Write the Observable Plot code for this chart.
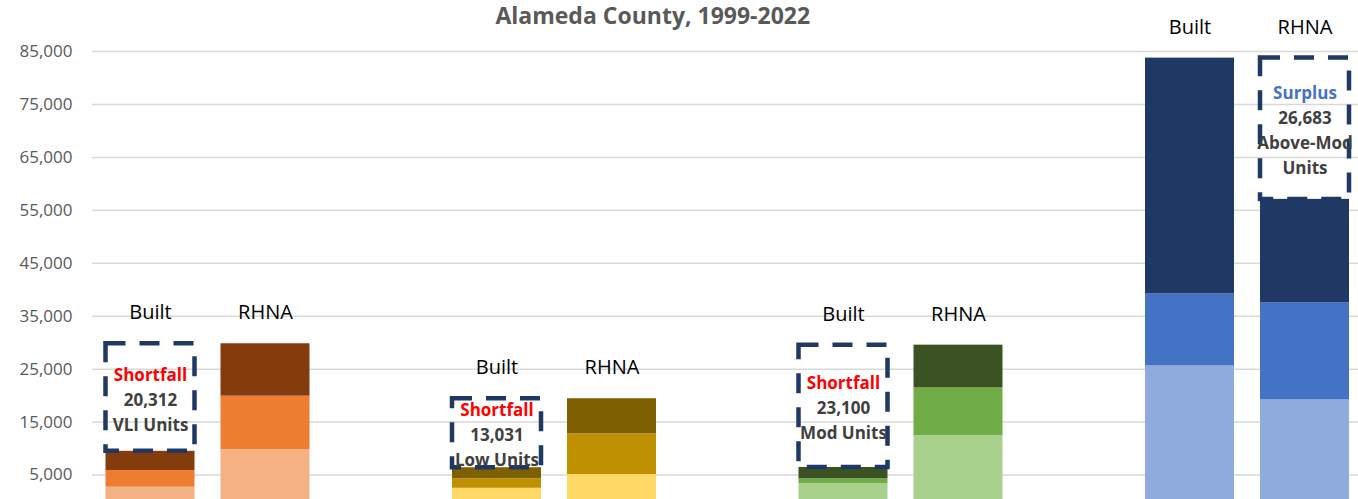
<!DOCTYPE html>
<html><head><meta charset="utf-8">
<script src="https://cdn.jsdelivr.net/npm/d3@7"></script>
<script src="https://cdn.jsdelivr.net/npm/@observablehq/plot@0.6"></script>
<style>html,body{margin:0;padding:0;background:#fff;overflow:hidden;}</style>
</head><body><div id="chart"></div>
<script>
const title = "Alameda County, 1999-2022";
const groups = ["Very Low Income", "Low Income", "Moderate Income", "Above Moderate Income"];
const barNames = ["Built", "RHNA"];
const cycles = ["1999-2006", "2007-2014", "2015-2022"];
const builtUnits = [[2700, 3150, 3630], [2500, 1780, 2100], [3340, 940, 2150], [25600, 13590, 44560]];
const rhnaUnits = [[9800, 10100, 9892], [5090, 7680, 6641], [12450, 9000, 8080], [19190, 18360, 19517]];
const cycleColors = [
  ["#F4B183", "#ED7D31", "#843C0C"],
  ["#FFD966", "#BF9000", "#7F6000"],
  ["#A9D18E", "#70AD47", "#3B5323"],
  ["#8FAADC", "#4472C4", "#1F3864"]
];
const gapStatus = ["Shortfall", "Shortfall", "Shortfall", "Surplus"];
const gapStatusColors = ["#FF0000", "#FF0000", "#FF0000", "#4472C4"];
const gapAmounts = [20312, 13031, 23100, 26683];
const gapUnits = ["VLI Units", "Low Units", "Mod Units", "Above-Mod\nUnits"];
const yTicks = [5000, 15000, 25000, 35000, 45000, 55000, 65000, 75000, 85000];

const sum = a => a.reduce((s, v) => s + v, 0);
const fmt = d3.format(",");

const segments = [];
groups.forEach((g, i) => {
  [builtUnits[i], rhnaUnits[i]].forEach((vals, j) => {
    vals.forEach((v, k) => segments.push({group: g, bar: barNames[j], cycle: cycles[k], value: v, color: cycleColors[i][k]}));
  });
});

const totals = groups.map((g, i) => ({group: g, built: sum(builtUnits[i]), rhna: sum(rhnaUnits[i])}));

const gaps = totals.map((t, i) => {
  const lo = Math.min(t.built, t.rhna), hi = Math.max(t.built, t.rhna);
  const rest = fmt(gapAmounts[i]) + "\n" + gapUnits[i];
  const n = 1 + rest.split("\n").length;
  return {
    group: t.group,
    bar: t.built < t.rhna ? "Built" : "RHNA",
    lo, hi, mid: (lo + hi) / 2,
    statusText: gapStatus[i] + "\n".repeat(n - 1),
    restText: "\n" + rest,
    statusColor: gapStatusColors[i]
  };
});

const barLabels = totals.flatMap(t => barNames.map(b => ({group: t.group, bar: b, top: Math.max(t.built, t.rhna)})));

// layout within each group band (pixels)
const bandW = 207.9, barW = 89, edge = 1.95, offset = 57.5;
const side = {Built: -1, RHNA: 1};
const insets = b => b === "Built"
  ? {insetLeft: edge, insetRight: bandW - edge - barW}
  : {insetLeft: bandW - edge - barW, insetRight: edge};

const marks = [
  Plot.ruleY(yTicks, {stroke: "#D9D9D9", strokeWidth: 1.5, insetLeft: -4.5}),
  Plot.axisY(yTicks, {tickFormat: fmt, tickSize: 0, tickPadding: 24.5, fontSize: 17, fill: "#595959", label: null})
];
for (const b of barNames) {
  marks.push(Plot.barY(segments.filter(d => d.bar === b), {x: "group", y: "value", fill: "color", ...insets(b)}));
}
for (const b of barNames) {
  const g = gaps.filter(d => d.bar === b);
  marks.push(
    Plot.barY(g, {x: "group", y1: "lo", y2: "hi", fill: "none", stroke: "#1F3864", strokeWidth: 4.5, strokeDasharray: "20,14", ...insets(b)}),
    Plot.text(g, {x: "group", y: "mid", dx: side[b] * offset, text: "statusText", fill: "statusColor", fontSize: 17, fontWeight: "bold", lineHeight: 1.47, lineAnchor: "middle"}),
    Plot.text(g, {x: "group", y: "mid", dx: side[b] * offset, text: "restText", fill: "#404040", fontSize: 17, fontWeight: "bold", lineHeight: 1.47, lineAnchor: "middle"}),
    Plot.text(barLabels.filter(d => d.bar === b), {x: "group", y: "top", text: "bar", dx: side[b] * offset, dy: -31, fontSize: 20, fill: "#000"})
  );
}
marks.push(Plot.text([title], {text: d => d, frameAnchor: "top", lineAnchor: "middle", dx: -75, dy: -35, fontSize: 23, fontWeight: "bold", fill: "#595959"}));

const chart = Plot.plot({
  width: 1358,
  height: 501,
  marginLeft: 96.5,
  marginRight: 0,
  marginTop: 51,
  marginBottom: 0,
  style: {fontFamily: "'Open Sans', sans-serif", background: "#fff"},
  x: {domain: groups, axis: null, paddingInner: 0.4, paddingOuter: 0.02035, round: false},
  y: {domain: [0, 85000], axis: null},
  marks
});
document.getElementById("chart").appendChild(chart);
</script>
</body></html>
